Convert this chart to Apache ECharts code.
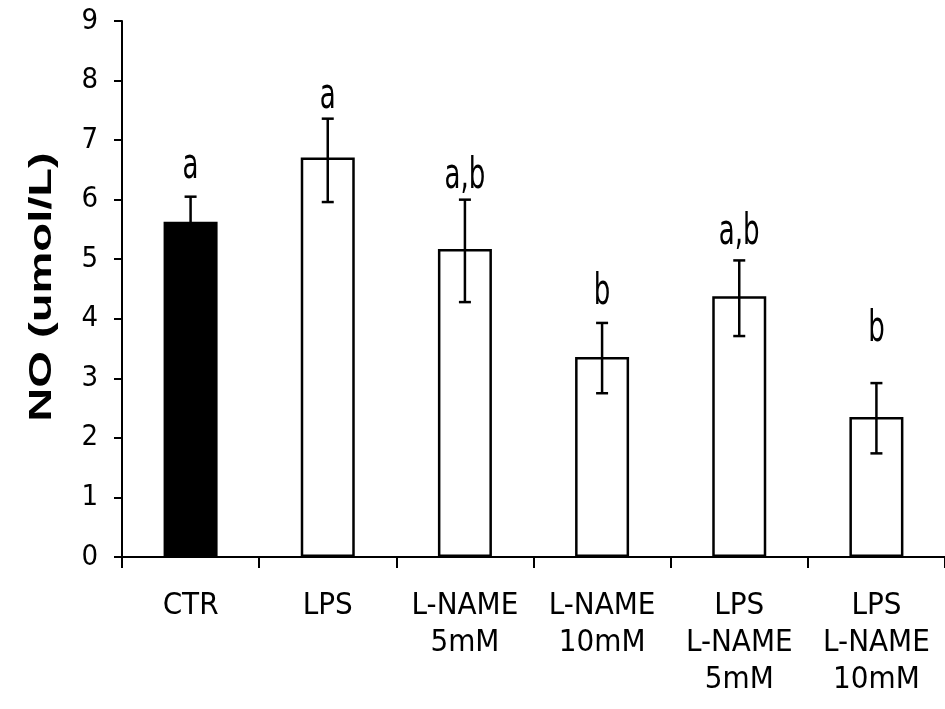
<!DOCTYPE html>
<html>
<head>
<meta charset="utf-8">
<script src="https://cdn.jsdelivr.net/npm/echarts@6/dist/echarts.min.js"></script>
<style>
html,body{margin:0;padding:0;background:#fff;}
#chart{width:945px;height:709px;}
</style>
</head>
<body>
<div id="chart"></div>
<script>
const categories = ['CTR', 'LPS', 'L-NAME\n5mM', 'L-NAME\n10mM', 'LPS\nL-NAME\n5mM', 'LPS\nL-NAME\n10mM'];
const means = [5.63, 6.71, 5.17, 3.36, 4.38, 2.35];
const errHigh = [6.05, 7.36, 6.00, 3.93, 4.98, 2.92];
const errLow = [5.21, 5.96, 4.28, 2.75, 3.71, 1.74];
const letters = ['a', 'a', 'a,b', 'b', 'a,b', 'b'];
const letterY = [6.38, 7.55, 6.21, 4.27, 5.27, 3.65];
const barColors = ['#000000', '#ffffff', '#ffffff', '#ffffff', '#ffffff', '#ffffff'];
const yTicks = [0, 9, 1];
const yTitle = 'NO (umol/L)';

const FONT = '"DejaVu Sans Condensed", "Liberation Sans", sans-serif';

const chart = echarts.init(document.getElementById('chart'), null, {renderer: 'canvas'});

const option = {
  backgroundColor: '#ffffff',
  animation: false,
  grid: {left: 122, right: 0, top: 21, bottom: 152, containLabel: false},
  graphic: [{
    type: 'text',
    x: 42, y: 287,
    rotation: Math.PI / 2,
    scaleX: 1.52,
    style: {
      text: yTitle,
      font: 'bold 31px "Liberation Sans", Arial, sans-serif',
      fill: '#000',
      align: 'center',
      verticalAlign: 'middle'
    }
  }],
  xAxis: {
    type: 'category',
    data: categories,
    boundaryGap: true,
    axisLine: {show: true, lineStyle: {color: '#000', width: 2}},
    axisTick: {show: true, alignWithLabel: false, length: 11, lineStyle: {color: '#000', width: 2}},
    axisLabel: {color: '#000', fontFamily: FONT, fontSize: 31, lineHeight: 37, margin: 30, interval: 0},
    splitLine: {show: false}
  },
  yAxis: {
    type: 'value',
    min: yTicks[0], max: yTicks[1], interval: yTicks[2],
    axisLine: {show: true, lineStyle: {color: '#000', width: 2}},
    axisTick: {show: true, length: 8, lineStyle: {color: '#000', width: 2}},
    axisLabel: {color: '#000', fontFamily: FONT, fontSize: 29, margin: 24},
    splitLine: {show: false}
  },
  series: [
    {
      type: 'bar',
      barWidth: 54,
      data: means.map((v, i) => ({value: v, itemStyle: {color: barColors[i]}})),
      itemStyle: {borderColor: '#000', borderWidth: 2.5},
      z: 2
    },
    {
      type: 'custom',
      z: 5,
      data: means.map((v, i) => [i, errLow[i], errHigh[i]]),
      renderItem: function (params, api) {
        const x = api.value(0);
        const lo = api.coord([x, api.value(1)]);
        const hi = api.coord([x, api.value(2)]);
        const hw = 6;
        const st = {stroke: '#000', lineWidth: 2.5};
        return {
          type: 'group',
          children: [
            {type: 'line', shape: {x1: hi[0], y1: hi[1], x2: lo[0], y2: lo[1]}, style: st},
            {type: 'line', shape: {x1: hi[0] - hw, y1: hi[1], x2: hi[0] + hw, y2: hi[1]}, style: st},
            {type: 'line', shape: {x1: lo[0] - hw, y1: lo[1], x2: lo[0] + hw, y2: lo[1]}, style: st}
          ]
        };
      }
    },
    {
      type: 'custom',
      z: 6,
      data: letters.map((t, i) => [i, letterY[i]]),
      renderItem: function (params, api) {
        const p = api.coord([api.value(0), api.value(1)]);
        return {
          type: 'text',
          x: p[0], y: p[1] + 11,
          scaleY: 1.45,
          style: {
            text: letters[params.dataIndex],
            fontFamily: FONT,
            fontSize: 29,
            fill: '#000',
            align: 'center',
            verticalAlign: 'bottom'
          }
        };
      }
    }
  ]
};
chart.setOption(option);
</script>
</body>
</html>
